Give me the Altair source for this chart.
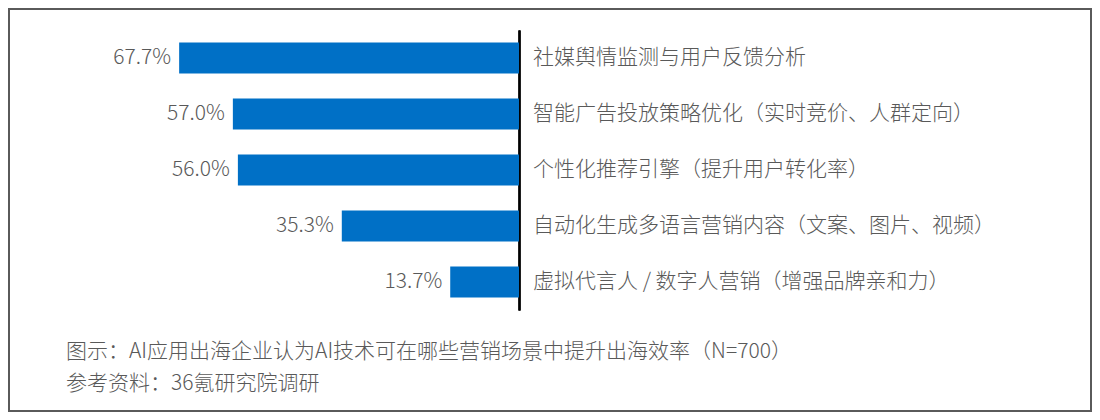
import altair as alt
import pandas as pd

categories = [
    "社媒舆情监测与用户反馈分析",
    "智能广告投放策略优化（实时竞价、人群定向）",
    "个性化推荐引擎（提升用户转化率）",
    "自动化生成多语言营销内容（文案、图片、视频）",
    "虚拟代言人 / 数字人营销（增强品牌亲和力）",
]
values = [67.7, 57.0, 56.0, 35.3, 13.7]
footer_lines = [
    "图示：AI应用出海企业认为AI技术可在哪些营销场景中提升出海效率（N=700）",
    "参考资料：36氪研究院调研",
]

FONT = "Noto Sans CJK SC"
TEXT_COLOR = "#595959"

df = pd.DataFrame({
    "cat": categories,
    "value": values,
    "label": [f"{v:.1f}%" for v in values],
})
foot = pd.DataFrame({"line": footer_lines, "row": [0, 1]})

y_enc = alt.Y(
    "cat:N",
    sort=categories,
    scale=alt.Scale(paddingInner=0.446, paddingOuter=0.223),
    axis=alt.Axis(
        orient="right", title=None, ticks=False, domainColor="black",
        domainWidth=2, labels=False, grid=False,
    ),
)
x_enc = alt.X("value:Q", scale=alt.Scale(domain=[0, 100], reverse=True), axis=None)

bars = alt.Chart(df).mark_bar(color="#0070C6").encode(x=x_enc, y=y_enc)
vals = alt.Chart(df).mark_text(
    align="right", baseline="middle", dx=-8, font=FONT, fontSize=21,
    fontWeight=300, color=TEXT_COLOR
).encode(x=x_enc, y=y_enc, text="label:N")
cats = alt.Chart(df).mark_text(
    align="left", baseline="middle", dx=14, font=FONT, fontSize=21,
    fontWeight=300, color=TEXT_COLOR
).encode(
    x=alt.X("zero:Q", scale=alt.Scale(domain=[0, 100], reverse=True), axis=None),
    y=y_enc, text="cat:N"
).transform_calculate(zero="0")

footer = alt.Chart(foot).mark_text(
    align="left", baseline="middle", font=FONT, fontSize=21, fontWeight=300,
    color=TEXT_COLOR
).encode(
    x=alt.value(49),
    y=alt.Y("row:Q", scale=alt.Scale(domain=[0, 1], range=[322, 354]), axis=None),
    text="line:N",
)

frame = alt.Chart(pd.DataFrame({"k": [0]})).mark_rect(
    fill=None, stroke="#5a5a5a", strokeWidth=2
).encode(
    x=alt.value(-8), x2=alt.value(1074), y=alt.value(-21), y2=alt.value(381)
)

chart = alt.layer(bars, vals, cats, footer, frame).resolve_scale(y="independent").properties(
    width=502,
    height=280,
    autosize=alt.AutoSizeParams(type="none"),
    padding={"left": 9, "top": 22, "right": 573, "bottom": 102},
    background="white",
).configure_view(stroke=None)

chart.save("out.html", embed_options={"renderer": "svg", "actions": False})
